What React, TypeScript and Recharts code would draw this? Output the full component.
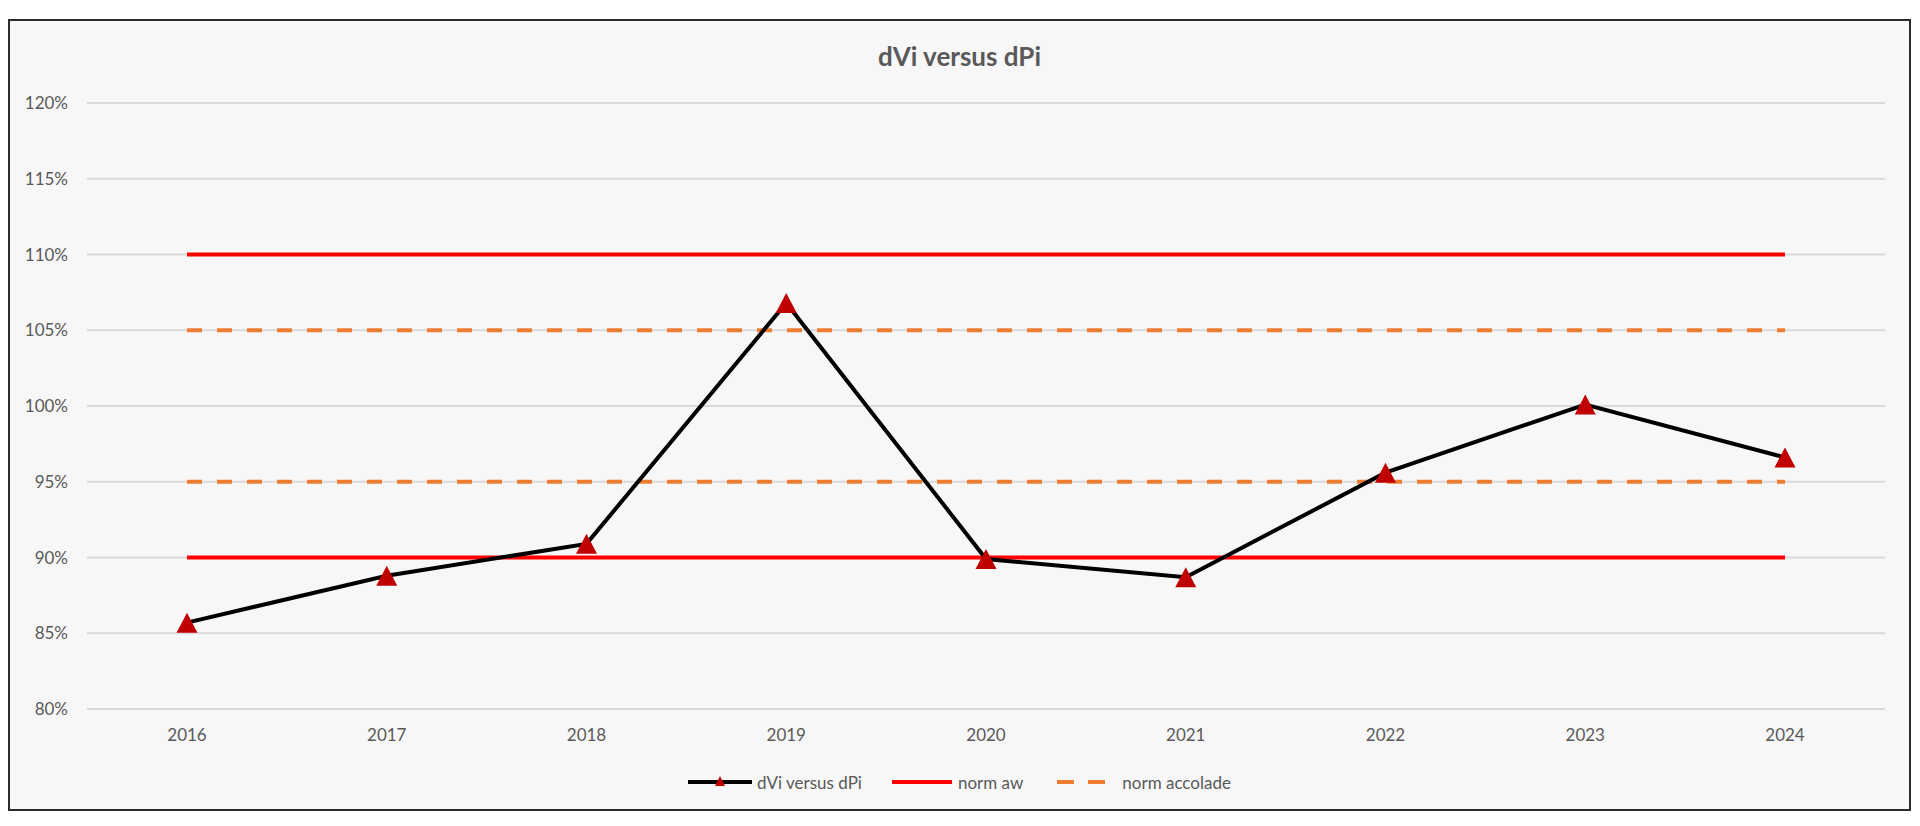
import { LineChart, Line, XAxis, YAxis, CartesianGrid, Legend } from 'recharts'

const years = ['2016', '2017', '2018', '2019', '2020', '2021', '2022', '2023', '2024']
const dviVersusDpi = [85.7, 88.8, 90.9, 106.8, 89.9, 88.7, 95.6, 100.1, 96.6]
const normAwUpper = [110, 110, 110, 110, 110, 110, 110, 110, 110]
const normAwLower = [90, 90, 90, 90, 90, 90, 90, 90, 90]
const normAccoladeUpper = [105, 105, 105, 105, 105, 105, 105, 105, 105]
const normAccoladeLower = [95, 95, 95, 95, 95, 95, 95, 95, 95]
const yTicks = [80, 85, 90, 95, 100, 105, 110, 115, 120]

const data = years.map((year, i) => ({
  year,
  dvi: dviVersusDpi[i],
  awUpper: normAwUpper[i],
  awLower: normAwLower[i],
  accUpper: normAccoladeUpper[i],
  accLower: normAccoladeLower[i],
}))

const FONT = 'Lato, "Open Sans", sans-serif'
const TEXT = '#595959'

const TriangleDot = (props: any) => {
  const { cx, cy, index } = props
  if (cx == null || cy == null) return null
  return (
    <polygon
      key={`tri-${index}`}
      points={`${cx},${cy - 10} ${cx + 10.5},${cy + 10} ${cx - 10.5},${cy + 10}`}
      fill="#C00000"
    />
  )
}

const LegendContent = () => (
  <div
    style={{
      display: 'flex',
      justifyContent: 'center',
      alignItems: 'center',
      height: 24,
      fontFamily: FONT,
      fontSize: 17,
      color: TEXT,
    }}
  >
    <span style={{ display: 'flex', alignItems: 'center' }}>
      <svg width={64} height={16}>
        <line x1={0} y1={8} x2={64} y2={8} stroke="#000" strokeWidth={4} />
        <polygon points="32,2 37,12 27,12" fill="#C00000" />
      </svg>
      <span style={{ marginLeft: 5 }}>dVi versus dPi</span>
    </span>
    <span style={{ display: 'flex', alignItems: 'center', marginLeft: 30 }}>
      <svg width={60} height={16}>
        <line x1={0} y1={8} x2={60} y2={8} stroke="#FF0000" strokeWidth={4} />
      </svg>
      <span style={{ marginLeft: 6 }}>norm aw</span>
    </span>
    <span style={{ display: 'flex', alignItems: 'center', marginLeft: 34 }}>
      <svg width={60} height={16}>
        <line x1={0} y1={8} x2={60} y2={8} stroke="#ED7D31" strokeWidth={4} strokeDasharray="17 14" />
      </svg>
      <span style={{ marginLeft: 5 }}>norm accolade</span>
    </span>
  </div>
)

export default function App() {
  return (
    <div style={{ paddingTop: 11 }}>
      <div
        style={{
          position: 'relative',
          width: 1903,
          height: 792,
          boxSizing: 'border-box',
          border: '2px solid #2b2b2b',
          background: '#f7f7f7',
        }}
      >
        <div
          style={{
            position: 'absolute',
            top: 22,
            left: 0,
            width: '100%',
            textAlign: 'center',
            fontFamily: FONT,
            fontWeight: 700,
            fontSize: 26,
            lineHeight: '26px',
            color: TEXT,
          }}
        >
          dVi versus dPi
        </div>
        <LineChart
          width={1899}
          height={788}
          data={data}
          margin={{ top: 82, right: 24, bottom: 70, left: 0 }}
        >
          <CartesianGrid vertical={false} stroke="#d9d9d9" strokeWidth={2} />
          <XAxis
            dataKey="year"
            height={30}
            padding={{ left: 100, right: 100 }}
            axisLine={{ stroke: '#d9d9d9', strokeWidth: 2 }}
            tickLine={false}
            tickSize={0}
            tickMargin={20}
            tick={{ fill: TEXT, fontSize: 17, fontFamily: FONT }}
          />
          <YAxis
            width={77}
            domain={[80, 120]}
            ticks={yTicks}
            axisLine={false}
            tickLine={false}
            tickSize={0}
            tickMargin={19}
            tickFormatter={(v: number) => `${v}%`}
            tick={{ fill: TEXT, fontSize: 17, fontFamily: FONT }}
          />
          <Legend
            verticalAlign="middle"
            align="center"
            layout="horizontal"
            wrapperStyle={{ top: 749, left: 0, width: 1899 }}
            content={<LegendContent />}
          />
          <Line
            dataKey="accUpper"
            name="norm accolade"
            stroke="#ED7D31"
            strokeWidth={4}
            strokeDasharray="15 15"
            dot={false}
            activeDot={false}
            legendType="none"
            isAnimationActive={false}
          />
          <Line
            dataKey="accLower"
            name="norm accolade"
            stroke="#ED7D31"
            strokeWidth={4}
            strokeDasharray="15 15"
            dot={false}
            activeDot={false}
            legendType="none"
            isAnimationActive={false}
          />
          <Line
            dataKey="awUpper"
            name="norm aw"
            stroke="#FF0000"
            strokeWidth={4}
            dot={false}
            activeDot={false}
            legendType="none"
            isAnimationActive={false}
          />
          <Line
            dataKey="awLower"
            name="norm aw"
            stroke="#FF0000"
            strokeWidth={4}
            dot={false}
            activeDot={false}
            legendType="none"
            isAnimationActive={false}
          />
          <Line
            dataKey="dvi"
            name="dVi versus dPi"
            stroke="#000000"
            strokeWidth={4}
            dot={<TriangleDot />}
            activeDot={false}
            isAnimationActive={false}
          />
        </LineChart>
      </div>
    </div>
  )
}
